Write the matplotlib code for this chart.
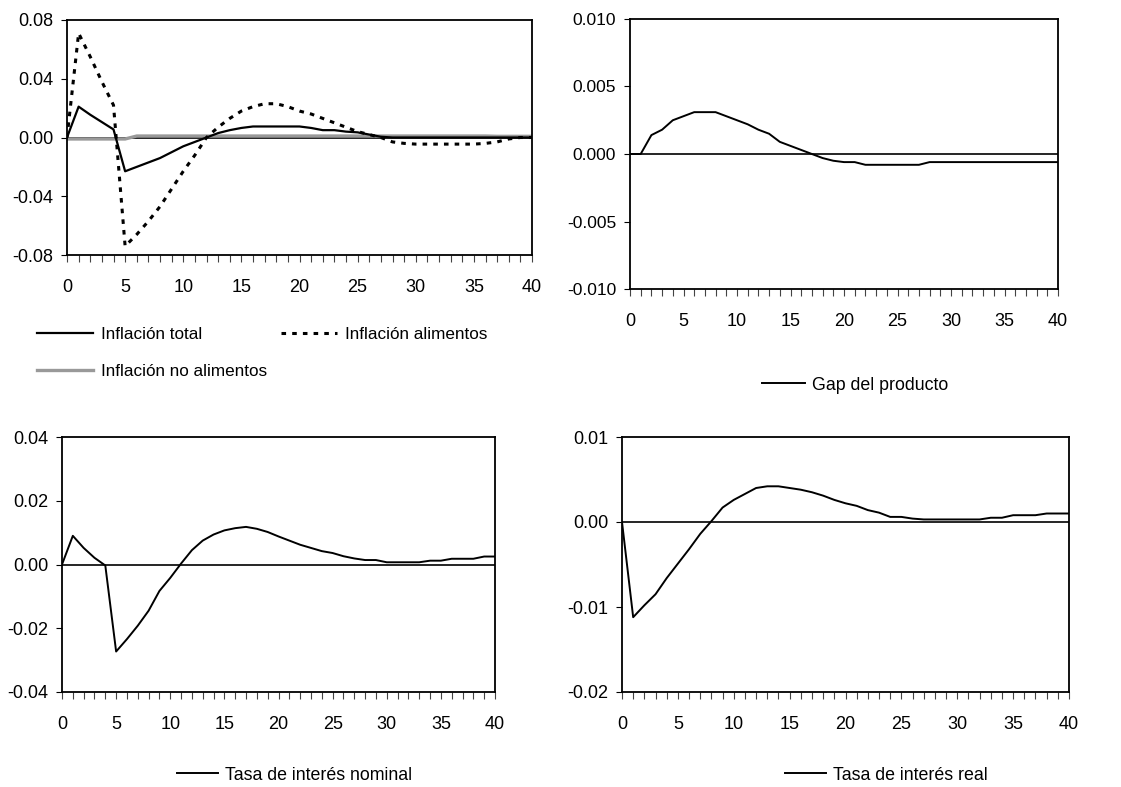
import matplotlib
matplotlib.use("Agg")
import matplotlib.pyplot as plt
from matplotlib.ticker import MultipleLocator, FormatStrFormatter

plt.rcParams["font.family"] = ["Liberation Sans", "DejaVu Sans"]
plt.rcParams["axes.unicode_minus"] = False

W, H = 1121, 787

periods = list(range(41))

infl_total = [0, 0.021, 0.0155, 0.0105, 0.0055, -0.023, -0.020, -0.017, -0.014, -0.010,
              -0.006, -0.003, 0.0, 0.003, 0.005, 0.0065, 0.0075, 0.0075, 0.0075, 0.0075,
              0.0075, 0.0065, 0.005, 0.005, 0.004, 0.0035, 0.002, 0.0005, 0, 0,
              0, 0, 0, 0, 0, 0, 0, 0, 0, 0, 0]
infl_alim = [0, 0.071, 0.055, 0.038, 0.022, -0.074, -0.066, -0.057, -0.047, -0.035,
             -0.023, -0.012, 0.0, 0.007, 0.013, 0.018, 0.021, 0.023, 0.023, 0.021,
             0.018, 0.016, 0.013, 0.010, 0.007, 0.004, 0.002, 0.0, -0.003, -0.004,
             -0.0045, -0.0045, -0.0045, -0.0045, -0.0045, -0.0045, -0.004, -0.003, -0.001, 0.0, 0.0]
infl_noalim = [-0.001, -0.001, -0.001, -0.001, -0.001, -0.001, 0.001, 0.001, 0.001, 0.001,
               0.001, 0.001, 0.001, 0.001, 0.001, 0.001, 0.001, 0.001, 0.001, 0.001,
               0.001, 0.001, 0.001, 0.001, 0.001, 0.001, 0.001, 0.001, 0.001, 0.001,
               0.001, 0.001, 0.001, 0.001, 0.001, 0.001, 0.001, 0.0008, 0.0008, 0.0008, 0.0008]
gap = [0, 0, 0.0014, 0.0018, 0.0025, 0.0028, 0.0031, 0.0031, 0.0031, 0.0028,
       0.0025, 0.0022, 0.0018, 0.0015, 0.0009, 0.0006, 0.0003, 0.0, -0.0003, -0.0005,
       -0.0006, -0.0006, -0.0008, -0.0008, -0.0008, -0.0008, -0.0008, -0.0008, -0.0006, -0.0006,
       -0.0006, -0.0006, -0.0006, -0.0006, -0.0006, -0.0006, -0.0006, -0.0006, -0.0006, -0.0006, -0.0006]
tasa_nominal = [0, 0.009, 0.0052, 0.0021, -0.0003, -0.0273, -0.0234, -0.0192, -0.0145, -0.0083,
                -0.0042, 0.0003, 0.0045, 0.0075, 0.0094, 0.0107, 0.0114, 0.0118, 0.0112, 0.0102,
                0.0088, 0.0075, 0.0062, 0.0052, 0.0042, 0.0036, 0.0026, 0.0019, 0.0014, 0.0014,
                0.0007, 0.0007, 0.0007, 0.0007, 0.0012, 0.0012, 0.0018, 0.0018, 0.0018, 0.0025, 0.0025]
tasa_real = [0, -0.0112, -0.0098, -0.0085, -0.0066, -0.0049, -0.0032, -0.0014, 0.0001, 0.0017,
             0.0026, 0.0033, 0.004, 0.0042, 0.0042, 0.004, 0.0038, 0.0035, 0.0031, 0.0026,
             0.0022, 0.0019, 0.0014, 0.0011, 0.0006, 0.0006, 0.0004, 0.0003, 0.0003, 0.0003,
             0.0003, 0.0003, 0.0003, 0.0005, 0.0005, 0.0008, 0.0008, 0.0008, 0.001, 0.001, 0.001]


def px_axes(fig, left, top, right, bottom):
    return fig.add_axes([left / W, 1 - bottom / H, (right - left) / W, (bottom - top) / H])


def style_axis(ax, ylim, ystep, yfmt, ysize=13):
    ax.set_xlim(0, 40)
    ax.set_ylim(*ylim)
    ax.xaxis.set_major_locator(MultipleLocator(5))
    ax.xaxis.set_minor_locator(MultipleLocator(1))
    ax.yaxis.set_major_locator(MultipleLocator(ystep))
    ax.yaxis.set_major_formatter(FormatStrFormatter(yfmt))
    ax.tick_params(axis="x", which="both", direction="out", length=5, width=0.8,
                   labelsize=13, pad=12, color="#444444")
    ax.tick_params(axis="y", direction="out", length=4, width=0.8, labelsize=ysize, pad=6)
    for sp in ax.spines.values():
        sp.set_linewidth(1.3)
        sp.set_color("black")
    ax.axhline(0, color="black", linewidth=1.2, zorder=1)


fig = plt.figure(figsize=(W / 100, H / 100), dpi=100)

# panel 1: inflation
ax1 = px_axes(fig, 67, 20, 532, 255)
style_axis(ax1, (-0.08, 0.08), 0.04, "%.2f")
l_tot, = ax1.plot(periods, infl_total, color="black", linewidth=1.6, label="Inflación total", zorder=4)
l_ali, = ax1.plot(periods, infl_alim, color="black", linewidth=2.2, linestyle=(0, (1.5, 2.0)),
                  label="Inflación alimentos", zorder=3)
l_noa, = ax1.plot(periods, infl_noalim, color="#999999", linewidth=2.4, label="Inflación no alimentos", zorder=2)
ax1.legend(handles=[l_tot, l_noa, l_ali], ncol=2, loc="center left", frameon=False,
           bbox_to_anchor=(37 / W, 1 - 353 / H), bbox_transform=fig.transFigure,
           fontsize=12.3, handlelength=3.3, handletextpad=0.45, columnspacing=0.8,
           labelspacing=1.3, borderpad=0, borderaxespad=0)

# panel 2: output gap
ax2 = px_axes(fig, 630, 19, 1058, 289)
style_axis(ax2, (-0.01, 0.01), 0.005, "%.3f", ysize=12.5)
l_gap, = ax2.plot(periods, gap, color="black", linewidth=1.4, label="Gap del producto")
ax2.legend(handles=[l_gap], loc="center left", frameon=False,
           bbox_to_anchor=(762 / W, 1 - 385 / H), bbox_transform=fig.transFigure,
           fontsize=12.8, handlelength=2.4, handletextpad=0.4, borderpad=0, borderaxespad=0)

# panel 3: nominal rate
ax3 = px_axes(fig, 62, 437, 495, 692)
style_axis(ax3, (-0.04, 0.04), 0.02, "%.2f")
l_nom, = ax3.plot(periods, tasa_nominal, color="black", linewidth=1.4, label="Tasa de interés nominal")
ax3.legend(handles=[l_nom], loc="center left", frameon=False,
           bbox_to_anchor=(177 / W, 1 - 775 / H), bbox_transform=fig.transFigure,
           fontsize=12.8, handlelength=2.3, handletextpad=0.4, borderpad=0, borderaxespad=0)

# panel 4: real rate
ax4 = px_axes(fig, 622, 437, 1069, 692)
style_axis(ax4, (-0.02, 0.01), 0.01, "%.2f")
l_real, = ax4.plot(periods, tasa_real, color="black", linewidth=1.4, label="Tasa de interés real")
ax4.legend(handles=[l_real], loc="center left", frameon=False,
           bbox_to_anchor=(785 / W, 1 - 775 / H), bbox_transform=fig.transFigure,
           fontsize=12.8, handlelength=2.3, handletextpad=0.4, borderpad=0, borderaxespad=0)

fig.savefig("out.png", dpi=100)
